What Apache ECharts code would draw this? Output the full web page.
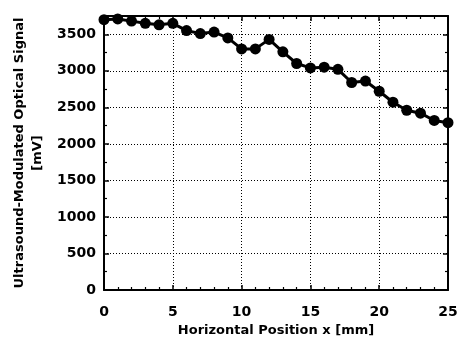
<!DOCTYPE html>
<html>
<head>
<meta charset="utf-8">
<script src="https://cdn.jsdelivr.net/npm/echarts@6/dist/echarts.min.js"></script>
<style>
  html, body { margin: 0; padding: 0; background: #fff; }
  #chart { width: 459px; height: 340px; }
</style>
</head>
<body>
<div id="chart"></div>
<script>
// horizontal position in mm
const positions = [0, 1, 2, 3, 4, 5, 6, 7, 8, 9, 10, 11, 12, 13, 14, 15, 16, 17, 18, 19, 20, 21, 22, 23, 24, 25];
// signal in mV
const signal = [3700, 3710, 3680, 3650, 3630, 3650, 3550, 3510, 3530, 3450, 3300, 3300, 3430, 3260, 3100, 3040, 3050, 3020, 2840, 2860, 2720, 2570, 2460, 2420, 2320, 2290];

const font = 'DejaVu Sans, Liberation Sans, sans-serif';
const ink = '#000';

const points = positions.map((x, i) => [x, signal[i]]);

const axisLine = { show: true, onZero: false, lineStyle: { color: ink, width: 2 } };
const tick = { show: true, inside: true, length: 5, lineStyle: { color: ink, width: 1.5 } };
const minor = (n) => ({ show: true, splitNumber: n, length: 3, lineStyle: { color: ink, width: 1.2 } });
const grid = { show: true, lineStyle: { color: ink, width: 1, type: [1, 2] } };
const plain = (v) => String(v);

const chart = echarts.init(document.getElementById('chart'));
chart.setOption({
    animation: false,
    grid: { left: 104, right: 11, top: 16, bottom: 50, outerBoundsMode: 'none', containLabel: false },
    xAxis: [
        {
            type: 'value', min: 0, max: 25, interval: 5,
            name: 'Horizontal Position x [mm]',
            nameLocation: 'middle', nameGap: 33,
            nameTextStyle: { color: ink, fontFamily: font, fontSize: 13, fontWeight: 'bold' },
            axisLine, axisTick: tick, minorTick: minor(5),
            axisLabel: { color: ink, fontFamily: font, fontSize: 14, fontWeight: 'bold', margin: 15, formatter: plain },
            splitLine: grid
        },
        {
            type: 'value', min: 0, max: 25, interval: 5, position: 'top',
            axisLine, axisTick: tick, minorTick: minor(5),
            axisLabel: { show: false }, splitLine: { show: false }
        }
    ],
    yAxis: [
        {
            type: 'value', min: 0, max: 3750, interval: 500,
            name: 'Ultrasound-Modulated Optical Signal\n[mV]',
            nameLocation: 'middle', nameGap: 55, nameRotate: 90,
            nameTextStyle: { color: ink, fontFamily: font, fontSize: 13, fontWeight: 'bold', lineHeight: 18 },
            axisLine, axisTick: tick, minorTick: minor(2),
            axisLabel: { color: ink, fontFamily: font, fontSize: 14, fontWeight: 'bold', margin: 8, showMaxLabel: false, formatter: plain },
            splitLine: grid
        },
        {
            type: 'value', min: 0, max: 3750, interval: 500, position: 'right',
            axisLine, axisTick: tick, minorTick: minor(2),
            axisLabel: { show: false }, splitLine: { show: false }
        }
    ],
    series: [{
        type: 'line',
        data: points,
        symbol: 'circle',
        symbolSize: 11,
        itemStyle: { color: ink },
        lineStyle: { color: ink, width: 3 }
    }]
});
</script>
</body>
</html>
